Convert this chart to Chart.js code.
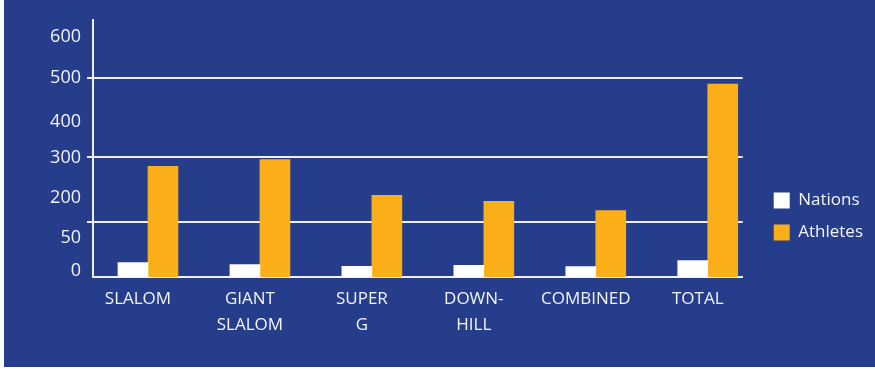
<!DOCTYPE html>
<html lang="en">
<head>
    <meta charset="UTF-8">
    <title>Alpine Events - Nations and Athletes</title>
    <script src="https://cdn.jsdelivr.net/npm/chart.js"></script>
    <style>
        body {
            margin: 0;
            background-color: #ffffff;
        }
        .chart-box {
            position: absolute;
            left: 4px;
            top: 0;
            width: 871px;
            height: 367px;
            background-color: #253d8b;
        }
    </style>
</head>
<body>
    <div class="chart-box">
        <canvas id="eventsChart"></canvas>
    </div>
    <script>
        const categories = [['SLALOM'], ['GIANT', 'SLALOM'], ['SUPER', 'G'], ['DOWN-', 'HILL'], ['COMBINED'], ['TOTAL']];
        const nations = [36, 31, 27, 29, 26, 41];
        const athletes = [278, 295, 205, 190, 167, 484];

        // y axis: where each label sits, what it reads, and which values get a grid line
        const yTickValues = [16, 97, 139, 198, 300, 390, 500, 603];
        const yTickLabels = ['0', '50', '', '200', '300', '400', '500', '600'];
        const yGridValues = [139, 300, 500];

        const lineColor = '#eef0f6';
        const textColor = '#f2f3f8';
        const fontFamily = "'Open Sans', sans-serif";

        const toPoints = values => values.map((v, i) => ({ x: i, y: v }));

        const ctx = document.getElementById('eventsChart').getContext('2d');
        new Chart(ctx, {
            type: 'bar',
            data: {
                datasets: [{
                    label: 'Nations',
                    data: toPoints(nations),
                    backgroundColor: '#ffffff',
                    borderWidth: 0
                }, {
                    label: 'Athletes',
                    data: toPoints(athletes),
                    backgroundColor: '#faae18',
                    borderWidth: 0
                }]
            },
            options: {
                responsive: true,
                maintainAspectRatio: false,
                animation: false,
                barThickness: 30,
                layout: {
                    padding: { top: 20, right: 2, bottom: 19, left: 0 }
                },
                scales: {
                    x: {
                        type: 'linear',
                        offset: false,
                        min: -0.491,
                        max: 5.3125,
                        afterBuildTicks: scale => {
                            scale.ticks = categories.map((c, i) => ({ value: i }));
                        },
                        grid: { display: false, drawTicks: false },
                        border: { display: true, color: lineColor, width: 2 },
                        ticks: {
                            color: textColor,
                            padding: 9.5,
                            labelOffset: -10,
                            maxRotation: 0,
                            autoSkip: false,
                            font: { family: fontFamily, size: 17, lineHeight: 26 / 17 },
                            callback: (value) => categories[value]
                        }
                    },
                    y: {
                        type: 'linear',
                        min: 0,
                        max: 645,
                        afterBuildTicks: scale => {
                            scale.ticks = yTickValues.map(v => ({ value: v }));
                        },
                        afterFit: scale => {
                            scale.width = 89;
                        },
                        grid: {
                            lineWidth: 2,
                            tickLength: 6,
                            color: c => yGridValues.includes(c.tick && c.tick.value) ? lineColor : 'transparent',
                            tickColor: c => yGridValues.includes(c.tick && c.tick.value) ? lineColor : 'transparent'
                        },
                        border: { display: true, color: lineColor, width: 2 },
                        ticks: {
                            color: textColor,
                            padding: 6,
                            autoSkip: false,
                            font: { family: fontFamily, size: 18 },
                            callback: (value, index) => yTickLabels[index]
                        }
                    },
                    // empty axis that keeps the legend clear of the plot
                    gap: {
                        type: 'linear',
                        position: 'right',
                        grid: { display: false },
                        border: { display: false },
                        ticks: { display: false },
                        afterFit: scale => {
                            scale.width = 16;
                        }
                    }
                },
                plugins: {
                    legend: {
                        position: 'right',
                        // blank title pushes the two entries down
                        title: { display: true, text: '', font: { size: 10 }, padding: { top: 0, bottom: 53 } },
                        labels: {
                            color: textColor,
                            boxWidth: 16,
                            boxHeight: 16,
                            padding: 15,
                            font: { family: fontFamily, size: 17 }
                        }
                    },
                    tooltip: { enabled: false }
                }
            }
        });
    </script>
</body>
</html>
